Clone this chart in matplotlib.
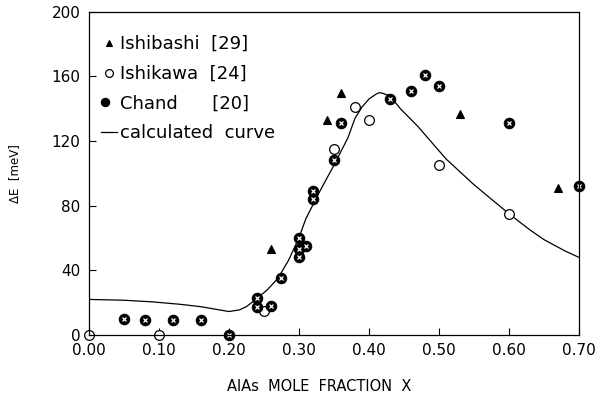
import numpy as np
import matplotlib
matplotlib.use('Agg')
import matplotlib.pyplot as plt
from matplotlib.legend_handler import HandlerTuple

plt.rcParams.update({'font.family': 'DejaVu Sans', 'font.size': 11})

# Ishibashi [29] (triangulos)
x_ishibashi = [0.26, 0.34, 0.36, 0.53, 0.67]
e_ishibashi = [53, 133, 150, 137, 91]

# Ishikawa [24] (circulos abiertos)
x_ishikawa = [0.00, 0.10, 0.25, 0.35, 0.38, 0.40, 0.50, 0.60]
e_ishikawa = [0, 0, 15, 115, 141, 133, 105, 75]

# Chand [20] (circulos rellenos)
x_chand = [0.05, 0.08, 0.12, 0.16, 0.20, 0.24, 0.24, 0.26, 0.275, 0.30, 0.30,
           0.30, 0.31, 0.32, 0.32, 0.35, 0.36, 0.43, 0.46, 0.48, 0.50, 0.60, 0.70]
e_chand = [10, 9, 9, 9, 0, 23, 17, 18, 35, 60, 53, 48, 55, 89, 84, 108, 131,
           146, 151, 161, 154, 131, 92]

# Curva calculada
x_curve = [0.00, 0.05, 0.09, 0.13, 0.16, 0.18, 0.20, 0.215, 0.225, 0.24, 0.255,
           0.27, 0.285, 0.30, 0.31, 0.33, 0.35, 0.37, 0.38, 0.39, 0.40, 0.41,
           0.415, 0.42, 0.43, 0.445, 0.47, 0.51, 0.55, 0.575, 0.60, 0.63, 0.65,
           0.68, 0.70]
e_curve = [22, 21.5, 20.5, 19, 17.5, 16, 14.5, 15.5, 17.5, 22.5, 28, 35, 46,
           60, 72, 89, 105, 122, 134, 141, 146, 149, 150, 149.5, 148, 140, 129,
           109, 93, 84, 75, 65, 59, 52, 48]

fig = plt.figure(figsize=(6.0, 4.07), dpi=100)
ax = fig.add_axes([0.148, 0.177, 0.817, 0.794])

curva, = ax.plot(x_curve, e_curve, color='black', lw=0.9)
tri, = ax.plot(x_ishibashi, e_ishibashi, ls='none', marker='^', ms=6,
               mfc='black', mec='black', mew=0.8, clip_on=False)
circ, = ax.plot(x_ishikawa, e_ishikawa, ls='none', marker='o', ms=7,
                mfc='white', mec='black', mew=0.9, clip_on=False)
ch1, = ax.plot(x_chand, e_chand, ls='none', marker='o', ms=7.5,
               mfc='black', mec='black', mew=0.8, clip_on=False)
ch2, = ax.plot(x_chand, e_chand, ls='none', marker='x', ms=3.5,
               mec='white', mew=0.9, clip_on=False)

ax.set_xlim(0, 0.70)
ax.set_ylim(0, 200)
ax.set_xticks(np.arange(0, 0.71, 0.1))
ax.set_xticklabels([f'{v:.2f}' for v in np.arange(0, 0.71, 0.1)])
ax.set_yticks([0, 40, 80, 120, 160, 200])
ax.tick_params(direction='in', length=5, width=0.8, labelsize=11, pad=6)
for s in ax.spines.values():
    s.set_linewidth(0.9)

ax.set_xlabel('AlAs  MOLE  FRACTION  X', fontsize=10.5)
ax.xaxis.set_label_coords(0.471, -0.135)
ax.set_ylabel('ΔE  [meV]', fontsize=8.5, labelpad=22)

ax.legend([tri, circ, (ch1, ch2), curva],
          ['Ishibashi  [29]', 'Ishikawa  [24]', 'Chand      [20]', 'calculated  curve'],
          handler_map={tuple: HandlerTuple(ndivide=None, pad=0)},
          loc='upper left', bbox_to_anchor=(0.01, 0.95), frameon=False,
          fontsize=13, handlelength=0.9, handletextpad=0.15, labelspacing=0.65,
          markerscale=0.8, borderaxespad=0)

fig.savefig('out.png', dpi=100)
